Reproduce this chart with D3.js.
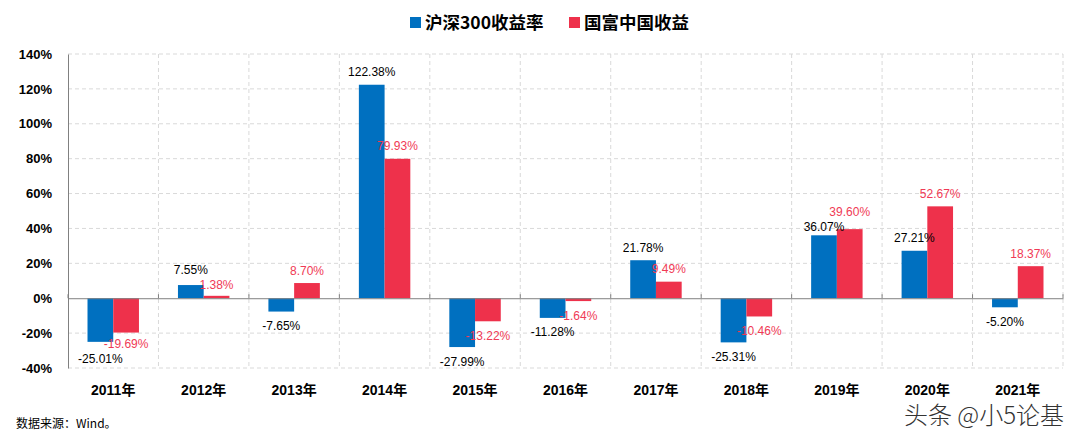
<!DOCTYPE html>
<html><head><meta charset="utf-8">
<script src="https://cdn.jsdelivr.net/npm/d3@7"></script>
<style>body{margin:0;background:#fff}svg{display:block}</style>
</head><body><svg id="c" width="1079" height="443"></svg>
<script>
const categories = ["2011年","2012年","2013年","2014年","2015年","2016年","2017年","2018年","2019年","2020年","2021年"];
const seriesNames = ["沪深300收益率","国富中国收益"];
const hs300 = [-25.01, 7.55, -7.65, 122.38, -27.99, -11.28, 21.78, -25.31, 36.07, 27.21, -5.20];
const guofu = [-19.69, 1.38, 8.70, 79.93, -13.22, -1.64, 9.49, -10.46, 39.60, 52.67, 18.37];
const yTicks = [-40,-20,0,20,40,60,80,100,120,140];
const colors = ["#0070C0","#EE314B"];
const labelColors = ["#000","#F03A55"];

const svg = d3.select("#c");
const L=68, R=1063, T=54, B=368;
const y = d3.scaleLinear().domain([-40,140]).range([B,T]);
const x = d3.scaleBand().domain(categories).range([L,R]).paddingInner(0).paddingOuter(0);
const cw = x.bandwidth();
const x1 = d3.scaleBand().domain([0,1]).range([cw*0.2156, cw*0.7844]).padding(0);

// horizontal grid
svg.append("g").selectAll("line").data(yTicks.filter(d=>d!==0)).join("line")
  .attr("x1",L).attr("x2",R).attr("y1",d=>y(d)).attr("y2",d=>y(d))
  .attr("stroke","#d9d9d9").attr("stroke-dasharray","4,3");
// vertical grid
svg.append("g").selectAll("line").data(categories).join("line")
  .attr("x1",(d,i)=>L+cw*(i+1)).attr("x2",(d,i)=>L+cw*(i+1))
  .attr("y1",T).attr("y2",B)
  .attr("stroke","#d9d9d9").attr("stroke-dasharray","4,3");

// y axis labels
const yAxis = d3.axisLeft(y).tickValues(yTicks).tickFormat(d=>d+"%").tickSize(0).tickPadding(16);
const ya = svg.append("g").attr("transform",`translate(${L},0)`).call(yAxis);
ya.select(".domain").attr("stroke","#808080");
ya.selectAll("text").attr("font-family","Liberation Sans, Arial, sans-serif").attr("font-weight","bold").attr("font-size","13px").attr("fill","#000");

// bars
const data = categories.map((c,i)=>({c, v:[hs300[i], guofu[i]]}));
const groups = svg.append("g").selectAll("g").data(data).join("g")
  .attr("transform",d=>`translate(${x(d.c)},0)`);
groups.selectAll("rect").data(d=>d.v.map((v,k)=>({v,k}))).join("rect")
  .attr("x",d=>x1(d.k)).attr("width",x1.bandwidth())
  .attr("y",d=>y(Math.max(0,d.v))).attr("height",d=>Math.abs(y(d.v)-y(0)))
  .attr("fill",d=>colors[d.k]);

// zero line with ticks
const xAxis = d3.axisTop(x).tickValues([]).tickSize(0);
const xa = svg.append("g").attr("transform",`translate(0,${y(0)})`).call(xAxis);
xa.select(".domain").attr("stroke","#808080");
svg.append("g").selectAll("line").data(d3.range(categories.length+1)).join("line")
  .attr("x1",i=>L+cw*i).attr("x2",i=>L+cw*i).attr("y1",y(0)-4).attr("y2",y(0))
  .attr("stroke","#808080");

// labels with simple collision avoidance within a group
const minSep = 15;
groups.each(function(d){
  const g = d3.select(this);
  const pos = d.v.map((v,k)=>({v,k, cy: v>=0 ? y(v)-13 : y(v)+14}));
  const sameSign = (d.v[0]>=0) === (d.v[1]>=0);
  if (sameSign && Math.abs(pos[0].cy-pos[1].cy) < minSep) {
    const deficit = minSep - Math.abs(pos[0].cy-pos[1].cy);
    const lo = pos[0].cy > pos[1].cy ? 0 : 1;
    pos[lo].cy += deficit/2; pos[1-lo].cy -= deficit/2;
  }
  g.selectAll("text.lbl").data(pos).join("text")
    .attr("class","lbl")
    .attr("x",p=>x1(p.k)+x1.bandwidth()/2)
    .attr("y",p=>p.cy+4.5)
    .attr("text-anchor","middle")
    .attr("font-family","Liberation Sans, Arial, sans-serif").attr("font-size","12px")
    .attr("fill",p=>labelColors[p.k])
    .text(p=>p.v.toFixed(2)+"%");
});

// x labels
svg.append("g").selectAll("text").data(categories).join("text")
  .attr("x",d=>x(d)+cw/2).attr("y",395).attr("text-anchor","middle")
  .attr("font-family","Liberation Sans, 'Noto Sans CJK SC', sans-serif").attr("font-weight","bold").attr("font-size","14px")
  .text(d=>d);

// legend
const lg = svg.append("g");
const lx = [410, 569];
seriesNames.forEach((n,i)=>{
  lg.append("rect").attr("x",lx[i]).attr("y",17).attr("width",11).attr("height",11).attr("fill",colors[i]);
  lg.append("text").attr("x",lx[i]+15).attr("y",29).attr("font-family","'Noto Sans CJK SC', sans-serif")
    .attr("font-weight","bold").attr("font-size","17.5px").attr("fill","#000").text(n);
});

// source
svg.append("text").attr("x",16).attr("y",428).attr("font-family","'Noto Sans CJK SC', sans-serif")
  .attr("font-size","12px").attr("fill","#000").text("数据来源：Wind。");
// watermark
svg.append("text").attr("x",1064).attr("y",424).attr("text-anchor","end")
  .attr("font-family","'Noto Sans CJK SC', sans-serif").attr("font-weight","300")
  .attr("font-size","24px").attr("fill","#333").attr("stroke","#fff").attr("stroke-width","0.6")
  .attr("paint-order","stroke").text("头条 @小5论基");
</script></body></html>
